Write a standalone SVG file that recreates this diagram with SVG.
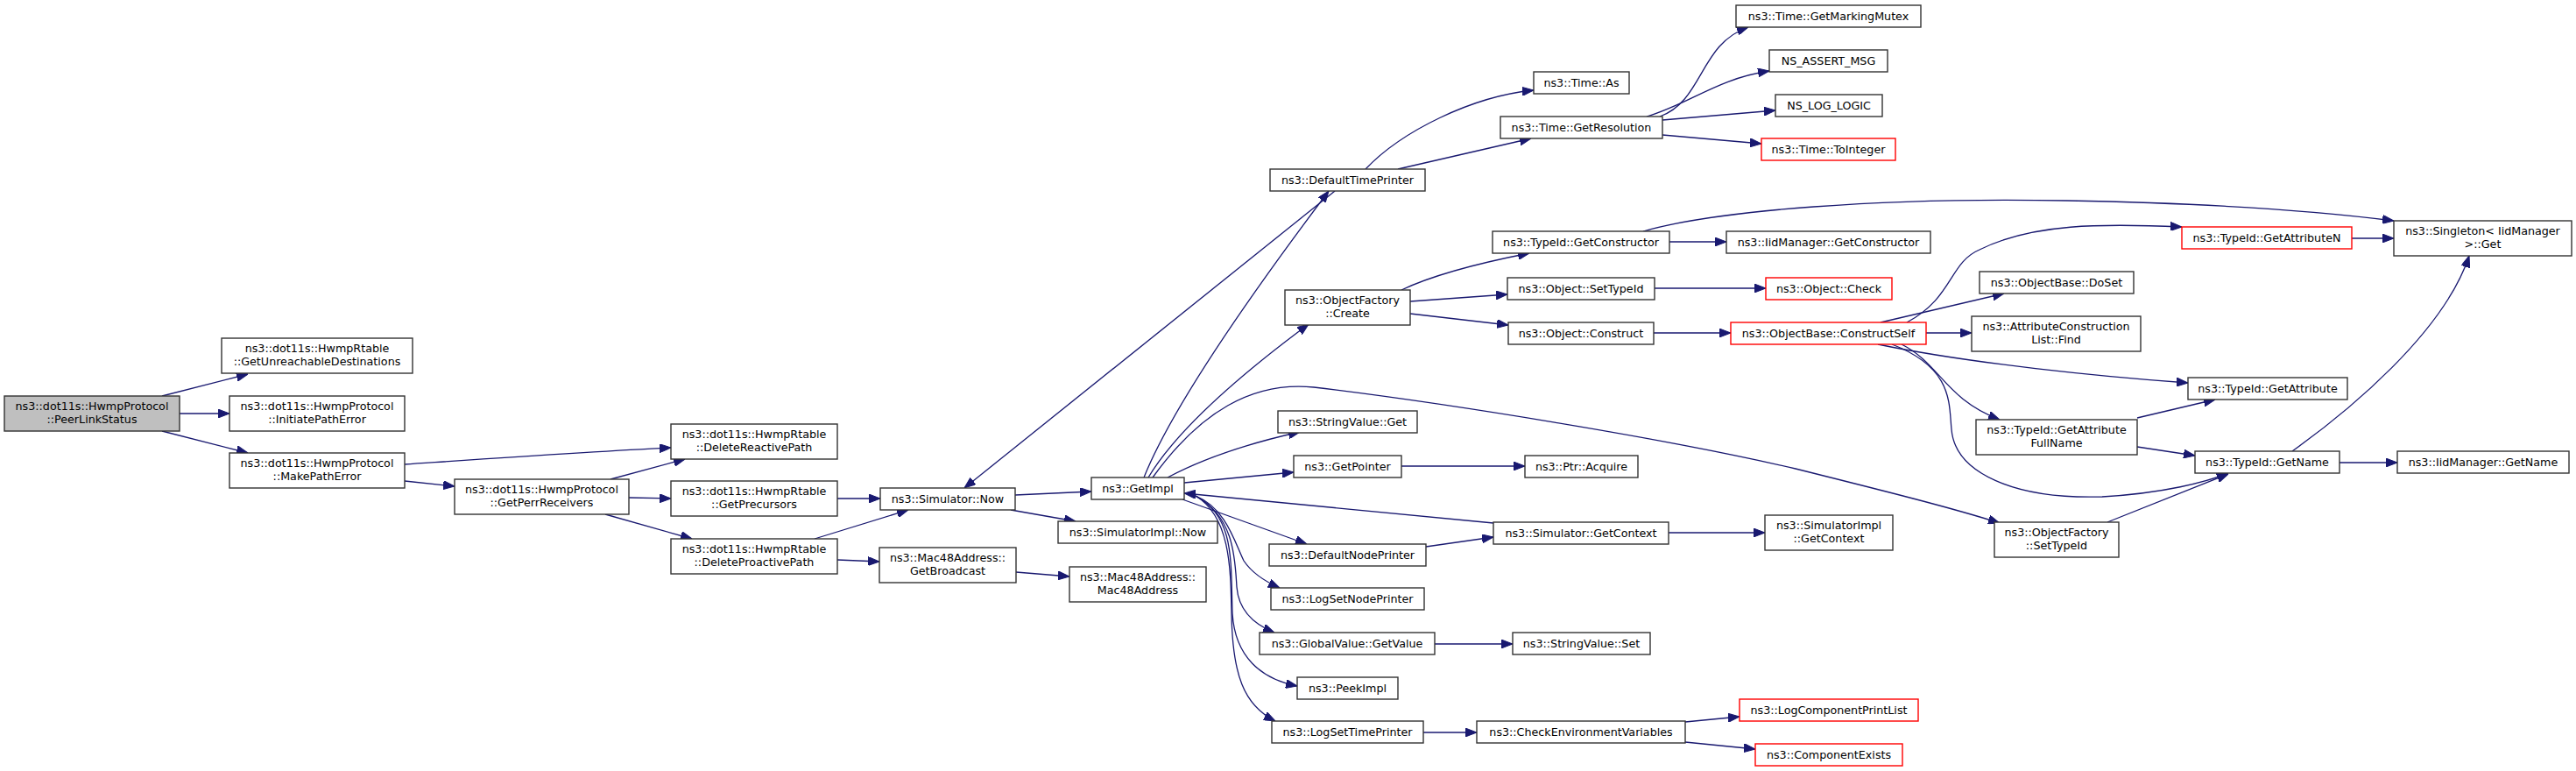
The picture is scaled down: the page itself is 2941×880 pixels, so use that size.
<svg xmlns="http://www.w3.org/2000/svg" width="2941" height="880" viewBox="0 0 2941 880">
<style>
.n rect{fill:#fff;stroke:#333;stroke-width:1.4}
.n.r rect{stroke:#f00}
.n.root rect{fill:#bfbfbf}
text{font-family:"DejaVu Sans",sans-serif;font-size:12.7px;text-anchor:middle;fill:#000}
.e path{fill:none;stroke:#191970;stroke-width:1.3;marker-end:url(#a)}
</style>
<defs>
<marker id="a" viewBox="0 0 13 10" refX="13" refY="5" markerWidth="13" markerHeight="10" markerUnits="userSpaceOnUse" orient="auto">
<path d="M0,0 L13,5 L0,10 z" fill="#191970" stroke="#191970" stroke-width="1"/>
</marker>
</defs>
<rect width="2941" height="880" fill="#fff"/>
<g id="edges" class="e">
<path d="M185,452 L283,427"/>
<path d="M205,472 L262,472"/>
<path d="M185,492 L283,517"/>
<path d="M462,530 C580,522 680,515 766,511"/>
<path d="M462,549 L519,555"/>
<path d="M697,547 L782,524"/>
<path d="M718,568 L766,569"/>
<path d="M691,587 L790,615"/>
<path d="M956,569 L1005,569"/>
<path d="M930,615 L1037,582"/>
<path d="M956,639 L1004,641"/>
<path d="M1160,653 L1221,658"/>
<path d="M1159,565 L1246,561"/>
<path d="M1154,582 L1228,595"/>
<path d="M1524,218 L1101,557"/>
<path d="M1306,545 C1340,460 1440,320 1517,218"/>
<path d="M1311,545 C1350,480 1440,410 1494,370"/>
<path d="M1559,193 C1600,150 1680,110 1751,103"/>
<path d="M1596,193 L1748,158"/>
<path d="M1895,133 C1945,115 1940,50 1996,31"/>
<path d="M1880,133 C1930,118 1960,90 2020,81"/>
<path d="M1898,137 L2027,126"/>
<path d="M1898,154 L2011,164"/>
<path d="M1600,331 C1640,312 1700,298 1746,289"/>
<path d="M1610,344 L1721,336"/>
<path d="M1610,358 L1722,371"/>
<path d="M1906,276 L1971,276"/>
<path d="M1876,264 C1960,240 2150,225 2360,229 C2520,232 2640,240 2733,252"/>
<path d="M1889,329 L2016,329"/>
<path d="M1888,380 L1976,380"/>
<path d="M2177,368 C2230,340 2225,300 2260,285 C2320,255 2400,255 2491,259"/>
<path d="M2147,368 L2288,335"/>
<path d="M2199,380 L2251,380"/>
<path d="M2144,393 C2250,415 2400,430 2498,437"/>
<path d="M2171,393 C2215,415 2220,455 2283,479"/>
<path d="M2160,393 C2230,420 2225,460 2228,490 C2232,540 2300,570 2400,567 C2470,563 2520,550 2544,540"/>
<path d="M2685,272 L2733,272"/>
<path d="M2440,477 L2529,456"/>
<path d="M2440,510 L2506,520"/>
<path d="M2617,515 C2680,470 2790,380 2819,292"/>
<path d="M2671,528 L2737,528"/>
<path d="M2406,596 L2544,541"/>
<path d="M1316,545 C1370,470 1430,435 1500,442 C1650,460 1900,500 2050,535 C2150,560 2230,580 2283,597"/>
<path d="M1333,545 C1380,520 1430,505 1484,493"/>
<path d="M1352,551 L1477,539"/>
<path d="M1600,532 L1741,532"/>
<path d="M1705,597 L1352,563"/>
<path d="M1350,570 L1492,621"/>
<path d="M1628,624 L1705,613"/>
<path d="M1905,608 L2015,608"/>
<path d="M1365,566 C1400,580 1410,620 1420,640 C1430,655 1445,664 1461,671"/>
<path d="M1365,566 C1410,590 1410,640 1412,670 C1414,695 1430,712 1455,722"/>
<path d="M1638,735 L1727,735"/>
<path d="M1365,566 C1410,590 1405,640 1407,700 C1410,750 1440,775 1481,783"/>
<path d="M1365,566 C1405,590 1405,650 1406,700 C1407,770 1420,805 1456,823"/>
<path d="M1625,836 L1686,836"/>
<path d="M1924,824 L1986,818"/>
<path d="M1924,847 L2004,855"/>
</g>
<g id="n0" class="n root"><rect x="5" y="452" width="200" height="40"/><text x="105" y="468">ns3::dot11s::HwmpProtocol</text><text x="105" y="483">::PeerLinkStatus</text></g>
<g id="n1" class="n"><rect x="253" y="386" width="218" height="40"/><text x="362" y="402">ns3::dot11s::HwmpRtable</text><text x="362" y="417">::GetUnreachableDestinations</text></g>
<g id="n2" class="n"><rect x="262" y="452" width="200" height="40"/><text x="362" y="468">ns3::dot11s::HwmpProtocol</text><text x="362" y="483">::InitiatePathError</text></g>
<g id="n3" class="n"><rect x="262" y="517" width="200" height="40"/><text x="362" y="533">ns3::dot11s::HwmpProtocol</text><text x="362" y="548">::MakePathError</text></g>
<g id="n4" class="n"><rect x="519" y="547" width="199" height="40"/><text x="618.5" y="563">ns3::dot11s::HwmpProtocol</text><text x="618.5" y="578">::GetPerrReceivers</text></g>
<g id="n5" class="n"><rect x="766" y="484" width="190" height="40"/><text x="861" y="500">ns3::dot11s::HwmpRtable</text><text x="861" y="515">::DeleteReactivePath</text></g>
<g id="n6" class="n"><rect x="766" y="549" width="190" height="40"/><text x="861" y="565">ns3::dot11s::HwmpRtable</text><text x="861" y="580">::GetPrecursors</text></g>
<g id="n7" class="n"><rect x="766" y="615" width="190" height="40"/><text x="861" y="631">ns3::dot11s::HwmpRtable</text><text x="861" y="646">::DeleteProactivePath</text></g>
<g id="n8" class="n"><rect x="1005" y="557" width="154" height="25"/><text x="1082" y="574">ns3::Simulator::Now</text></g>
<g id="n9" class="n"><rect x="1004" y="625" width="156" height="40"/><text x="1082" y="641">ns3::Mac48Address::</text><text x="1082" y="656">GetBroadcast</text></g>
<g id="n10" class="n"><rect x="1246" y="545" width="106" height="25"/><text x="1299" y="562">ns3::GetImpl</text></g>
<g id="n11" class="n"><rect x="1208" y="595" width="182" height="25"/><text x="1299" y="612">ns3::SimulatorImpl::Now</text></g>
<g id="n12" class="n"><rect x="1221" y="647" width="156" height="40"/><text x="1299" y="663">ns3::Mac48Address::</text><text x="1299" y="678">Mac48Address</text></g>
<g id="n13" class="n"><rect x="1450" y="193" width="177" height="25"/><text x="1538.5" y="210">ns3::DefaultTimePrinter</text></g>
<g id="n14" class="n"><rect x="1751" y="82" width="109" height="25"/><text x="1805.5" y="99">ns3::Time::As</text></g>
<g id="n15" class="n"><rect x="1713" y="133" width="185" height="25"/><text x="1805.5" y="150">ns3::Time::GetResolution</text></g>
<g id="n16" class="n"><rect x="1982" y="6" width="211" height="25"/><text x="2087.5" y="23">ns3::Time::GetMarkingMutex</text></g>
<g id="n17" class="n"><rect x="2020" y="57" width="135" height="25"/><text x="2087.5" y="74">NS_ASSERT_MSG</text></g>
<g id="n18" class="n"><rect x="2027" y="108" width="122" height="25"/><text x="2088" y="125">NS_LOG_LOGIC</text></g>
<g id="n19" class="n r"><rect x="2011" y="158" width="153" height="25"/><text x="2087.5" y="175">ns3::Time::ToInteger</text></g>
<g id="n20" class="n"><rect x="1467" y="331" width="143" height="40"/><text x="1538.5" y="347">ns3::ObjectFactory</text><text x="1538.5" y="362">::Create</text></g>
<g id="n21" class="n"><rect x="1704" y="264" width="202" height="25"/><text x="1805" y="281">ns3::TypeId::GetConstructor</text></g>
<g id="n22" class="n"><rect x="1721" y="317" width="168" height="25"/><text x="1805" y="334">ns3::Object::SetTypeId</text></g>
<g id="n23" class="n"><rect x="1722" y="368" width="166" height="25"/><text x="1805" y="385">ns3::Object::Construct</text></g>
<g id="n24" class="n"><rect x="1971" y="264" width="233" height="25"/><text x="2087.5" y="281">ns3::IidManager::GetConstructor</text></g>
<g id="n25" class="n r"><rect x="2016" y="317" width="144" height="25"/><text x="2088" y="334">ns3::Object::Check</text></g>
<g id="n26" class="n r"><rect x="1976" y="368" width="223" height="25"/><text x="2087.5" y="385">ns3::ObjectBase::ConstructSelf</text></g>
<g id="n27" class="n r"><rect x="2491" y="259" width="194" height="25"/><text x="2588" y="276">ns3::TypeId::GetAttributeN</text></g>
<g id="n28" class="n"><rect x="2733" y="252" width="203" height="40"/><text x="2834.5" y="268">ns3::Singleton&lt; IidManager</text><text x="2834.5" y="283">&gt;::Get</text></g>
<g id="n29" class="n"><rect x="2260" y="310" width="176" height="25"/><text x="2348" y="327">ns3::ObjectBase::DoSet</text></g>
<g id="n30" class="n"><rect x="2251" y="361" width="193" height="40"/><text x="2347.5" y="377">ns3::AttributeConstruction</text><text x="2347.5" y="392">List::Find</text></g>
<g id="n31" class="n"><rect x="2498" y="431" width="182" height="25"/><text x="2589" y="448">ns3::TypeId::GetAttribute</text></g>
<g id="n32" class="n"><rect x="2256" y="479" width="184" height="40"/><text x="2348" y="495">ns3::TypeId::GetAttribute</text><text x="2348" y="510">FullName</text></g>
<g id="n33" class="n"><rect x="2506" y="515" width="165" height="25"/><text x="2588.5" y="532">ns3::TypeId::GetName</text></g>
<g id="n34" class="n"><rect x="2737" y="515" width="196" height="25"/><text x="2835" y="532">ns3::IidManager::GetName</text></g>
<g id="n35" class="n"><rect x="1459" y="469" width="159" height="25"/><text x="1538.5" y="486">ns3::StringValue::Get</text></g>
<g id="n36" class="n"><rect x="1477" y="520" width="123" height="25"/><text x="1538.5" y="537">ns3::GetPointer</text></g>
<g id="n37" class="n"><rect x="1741" y="520" width="129" height="25"/><text x="1805.5" y="537">ns3::Ptr::Acquire</text></g>
<g id="n38" class="n"><rect x="1705" y="596" width="200" height="25"/><text x="1805" y="613">ns3::Simulator::GetContext</text></g>
<g id="n39" class="n"><rect x="2015" y="588" width="146" height="40"/><text x="2088" y="604">ns3::SimulatorImpl</text><text x="2088" y="619">::GetContext</text></g>
<g id="n40" class="n"><rect x="2277" y="596" width="142" height="40"/><text x="2348" y="612">ns3::ObjectFactory</text><text x="2348" y="627">::SetTypeId</text></g>
<g id="n41" class="n"><rect x="1449" y="621" width="179" height="25"/><text x="1538.5" y="638">ns3::DefaultNodePrinter</text></g>
<g id="n42" class="n"><rect x="1451" y="671" width="175" height="25"/><text x="1538.5" y="688">ns3::LogSetNodePrinter</text></g>
<g id="n43" class="n"><rect x="1438" y="722" width="200" height="25"/><text x="1538" y="739">ns3::GlobalValue::GetValue</text></g>
<g id="n44" class="n"><rect x="1727" y="722" width="157" height="25"/><text x="1805.5" y="739">ns3::StringValue::Set</text></g>
<g id="n45" class="n"><rect x="1481" y="773" width="115" height="25"/><text x="1538.5" y="790">ns3::PeekImpl</text></g>
<g id="n46" class="n"><rect x="1452" y="823" width="173" height="25"/><text x="1538.5" y="840">ns3::LogSetTimePrinter</text></g>
<g id="n47" class="n"><rect x="1686" y="823" width="238" height="25"/><text x="1805" y="840">ns3::CheckEnvironmentVariables</text></g>
<g id="n48" class="n r"><rect x="1986" y="798" width="204" height="25"/><text x="2088" y="815">ns3::LogComponentPrintList</text></g>
<g id="n49" class="n r"><rect x="2004" y="849" width="168" height="25"/><text x="2088" y="866">ns3::ComponentExists</text></g>
</svg>
